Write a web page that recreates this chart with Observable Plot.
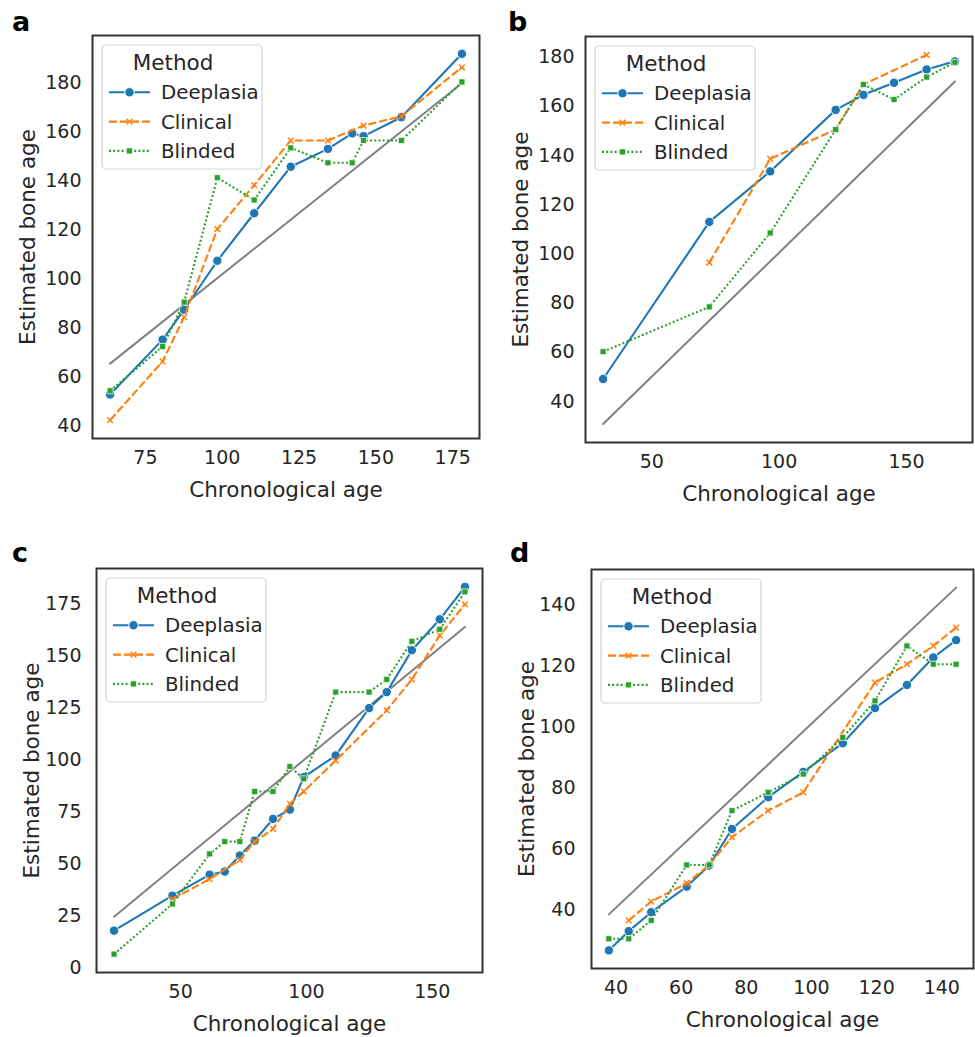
<!DOCTYPE html>
<html><head><meta charset="utf-8">
<script src="https://cdn.jsdelivr.net/npm/d3@7"></script>
<script src="https://cdn.jsdelivr.net/npm/@observablehq/plot@0.6"></script>
<style>
html,body{margin:0;padding:0;background:#fff;overflow:hidden;}
#fig{position:relative;width:975px;height:1037px;font-family:"DejaVu Sans",sans-serif;color:#262626;}
.panel{position:absolute;}
.letter{position:absolute;font-weight:bold;font-size:27px;line-height:1;font-family:"DejaVu Sans",sans-serif;color:#000;}
</style></head><body><div id="fig"></div>
<script>
// ---------- data ----------
const methods = ["Deeplasia", "Clinical", "Blinded"];

// panel a
const ageA = [63.5, 80.6, 87.6, 98.4, 110.4, 122.3, 134.4, 142.3, 146.0, 158.3, 178.0];
const deeplasiaA = [52.9, 75.3, 87.5, 107.5, 126.9, 145.9, 153.2, 159.5, 158.4, 166.1, 192.0];
const clinicalA = [42.4, 66.4, 84.5, 120.4, 138.4, 156.6, 156.6, null, 162.7, 166.5, 186.5];
const blindedA = [54.4, 72.5, 90.6, 141.4, 132.3, 153.6, 147.5, 147.5, 156.6, 156.6, 180.5];
const refXA = [63.5, 178.0], refYA = [65.5, 180.0];
const xTicksA = [75, 100, 125, 150, 175], yTicksA = [40, 60, 80, 100, 120, 140, 160, 180];

// panel b
const ageB = [30.9, 72.6, 96.5, 122.2, 133.1, 145.1, 157.9, 169.0];
const deeplasiaB = [49.2, 113.0, 133.5, 158.5, 164.6, 169.5, 174.9, 178.2];
const clinicalB = [null, 96.5, 138.6, 150.5, 168.8, null, 180.8, null];
const blindedB = [60.3, 78.5, 108.5, 150.5, 168.8, 162.7, 171.8, 177.8];
const refXB = [30.9, 169.0], refYB = [30.9, 170.0];
const xTicksB = [50, 100, 150], yTicksB = [40, 60, 80, 100, 120, 140, 160, 180];

// panel c
const ageC = [23.5, 46.7, 61.5, 67.5, 73.5, 79.4, 86.7, 93.4, 98.9, 111.6, 124.9, 131.9, 141.9, 153.0, 163.0];
const deeplasiaC = [17.7, 34.5, 44.6, 46.1, 53.8, 61.0, 71.4, 75.9, 91.5, 101.9, 124.7, 132.4, 152.5, 167.4, 183.0];
const clinicalC = [null, 32.9, 42.5, null, 51.7, 60.5, 66.6, 78.7, 84.6, 99.5, null, 123.6, 138.5, 159.7, 174.6];
const blindedC = [6.4, 30.5, 54.6, 60.5, 60.5, 84.6, 84.6, 96.6, 90.7, 132.4, 132.4, 138.5, 156.8, 162.6, 180.6];
const refXC = [23.5, 163.0], refYC = [24.4, 163.7];
const xTicksC = [50, 100, 150], yTicksC = [0, 25, 50, 75, 100, 125, 150, 175];

// panel d
const ageD = [37.8, 43.9, 50.8, 61.7, 68.6, 75.6, 86.7, 97.5, 109.6, 119.5, 129.3, 137.4, 144.4];
const deeplasiaD = [26.6, 32.9, 39.1, 47.5, 54.4, 66.4, 76.8, 85.1, 94.5, 106.0, 113.6, 122.6, 128.3];
const clinicalD = [null, 36.4, 42.6, 48.6, 54.6, 63.7, 72.4, 78.4, null, 114.4, 120.4, 126.4, 132.4];
const blindedD = [30.4, 30.4, 36.4, 54.6, 54.6, 72.4, 78.4, 84.4, 96.4, 108.4, 126.4, 120.4, 120.4];
const refXD = [37.8, 144.4], refYD = [38.4, 145.5];
const xTicksD = [40, 60, 80, 100, 120, 140], yTicksD = [40, 60, 80, 100, 120, 140];

const xLabel = "Chronological age";
const yLabel = "Estimated bone age";
const legendTitle = "Method";
const panelLetters = ["a", "b", "c", "d"];

// ---------- styles ----------
const styles = {
  Deeplasia: {color: "#1f77b4", dash: null, symbol: "circle"},
  Clinical: {color: "#ff7f0e", dash: "8,3", symbol: "times"},
  Blinded: {color: "#2ca02c", dash: "2,2.2", symbol: "square"}
};
const R_CIRCLE = 4.7, R_TIMES = 2.7, R_SQUARE = 3.4;

const panels = [
  {letter: panelLetters[0], left: 92, top: 35, fw: 387, fh: 403, age: ageA, series: [deeplasiaA, clinicalA, blindedA], refX: refXA, refY: refYA, xTicks: xTicksA, yTicks: yTicksA, yPad: 11, lx: 12, ly: 8},
  {letter: panelLetters[1], left: 585, top: 36, fw: 387, fh: 406, age: ageB, series: [deeplasiaB, clinicalB, blindedB], refX: refXB, refY: refYB, xTicks: xTicksB, yTicks: yTicksB, yPad: 11, lx: 508, ly: 8},
  {letter: panelLetters[2], left: 96, top: 568, fw: 386, fh: 404, age: ageC, series: [deeplasiaC, clinicalC, blindedC], refX: refXC, refY: refYC, xTicks: xTicksC, yTicks: yTicksC, yPad: 15, lx: 12, ly: 539},
  {letter: panelLetters[3], left: 591, top: 569, fw: 382, fh: 399, age: ageD, series: [deeplasiaD, clinicalD, blindedD], refX: refXD, refY: refYD, xTicks: xTicksD, yTicks: yTicksD, yPad: 16, lx: 510, ly: 539}
];

function padded(vals) {
  const [lo, hi] = d3.extent(vals);
  const p = (hi - lo) * 0.05;
  return [lo - p, hi + p];
}

const fig = document.getElementById("fig");
const ML = 90, MT = 10, MR = 2, MB = 70;

for (const P of panels) {
  const rows = [];
  P.age.forEach((a, i) => {
    methods.forEach((m, k) => {
      const v = P.series[k][i];
      if (v != null) rows.push({age: a, est: v, method: m});
    });
  });
  const ref = P.refX.map((x, i) => ({x, y: P.refY[i]}));
  const xDomain = padded([...P.age, ...P.refX]);
  const yDomain = padded([...rows.map(d => d.est), ...P.refY]);

  const seriesMarks = [];
  for (const m of methods) {
    const s = styles[m];
    const data = rows.filter(d => d.method === m);
    seriesMarks.push(Plot.line(data, {x: "age", y: "est", stroke: s.color, strokeWidth: 2.1, strokeDasharray: s.dash, strokeLinecap: "butt"}));
    if (s.symbol === "circle")
      seriesMarks.push(Plot.dot(data, {x: "age", y: "est", symbol: "circle", r: R_CIRCLE, fill: s.color, stroke: "white", strokeWidth: 1}));
    else if (s.symbol === "times")
      seriesMarks.push(Plot.dot(data, {x: "age", y: "est", symbol: "times", r: R_TIMES, stroke: s.color, strokeWidth: 1.5}));
    else
      seriesMarks.push(Plot.dot(data, {x: "age", y: "est", symbol: "square", r: R_SQUARE, fill: s.color, stroke: "white", strokeWidth: 0.7}));
  }

  const svg = Plot.plot({
    width: ML + P.fw + MR,
    height: MT + P.fh + MB,
    marginLeft: ML, marginTop: MT, marginRight: MR, marginBottom: MB,
    style: {fontFamily: "DejaVu Sans", fontSize: "19px", color: "#262626", background: "transparent", overflow: "visible"},
    x: {domain: xDomain, label: null},
    y: {domain: yDomain, label: null},
    marks: [
      Plot.line(ref, {x: "x", y: "y", stroke: "#808080", strokeWidth: 2}),
      ...seriesMarks,
      Plot.frame({stroke: "#333333", strokeWidth: 2}),
      Plot.axisX({ticks: P.xTicks, tickSize: 0, tickPadding: 12, fontSize: 19, label: null}),
      Plot.axisY({ticks: P.yTicks, tickSize: 0, tickPadding: P.yPad, fontSize: 19, label: null}),
      Plot.text([xLabel], {frameAnchor: "bottom", dy: 52, fontSize: 21.5, lineAnchor: "middle", fill: "#262626"}),
      Plot.text([yLabel], {frameAnchor: "left", dx: -64, rotate: -90, fontSize: 21.5, lineAnchor: "middle", textAnchor: "middle", fill: "#262626"})
    ]
  });

  // legend (inside the frame, upper left)
  const g = d3.select(svg).append("g").attr("transform", `translate(${ML + 10},${MT + 10})`);
  g.append("rect").attr("width", 160).attr("height", 124).attr("rx", 4)
    .attr("fill", "white").attr("fill-opacity", 0.85).attr("stroke", "#d6d6d6").attr("stroke-width", 1.2);
  g.append("text").attr("x", 71).attr("y", 17).attr("dy", "0.35em").attr("text-anchor", "middle")
    .attr("font-size", 21.5).attr("fill", "#262626").text(legendTitle);
  methods.forEach((m, k) => {
    const s = styles[m];
    const y = 47.3 + k * 29.3;
    g.append("line").attr("x1", 7).attr("x2", 48).attr("y1", y).attr("y2", y)
      .attr("stroke", s.color).attr("stroke-width", 2.1).attr("stroke-dasharray", s.dash);
    if (s.symbol === "circle")
      g.append("circle").attr("cx", 27.5).attr("cy", y).attr("r", R_CIRCLE).attr("fill", s.color).attr("stroke", "white").attr("stroke-width", 1);
    else if (s.symbol === "times")
      g.append("path").attr("transform", `translate(27.5,${y})`).attr("d", d3.symbol(d3.symbolTimes, R_TIMES * R_TIMES * Math.PI)())
        .attr("fill", "none").attr("stroke", s.color).attr("stroke-width", 1.5);
    else
      g.append("path").attr("transform", `translate(27.5,${y})`).attr("d", d3.symbol(d3.symbolSquare, R_SQUARE * R_SQUARE * Math.PI)())
        .attr("fill", s.color).attr("stroke", "white").attr("stroke-width", 0.7);
    g.append("text").attr("x", 59).attr("y", y).attr("dy", "0.35em").attr("text-anchor", "start").attr("font-size", 19.8)
      .attr("fill", "#262626").text(m);
  });

  const wrap = document.createElement("div");
  wrap.className = "panel";
  wrap.style.left = (P.left - ML) + "px";
  wrap.style.top = (P.top - MT) + "px";
  wrap.appendChild(svg);
  fig.appendChild(wrap);

  const lab = document.createElement("div");
  lab.className = "letter";
  lab.style.left = P.lx + "px";
  lab.style.top = P.ly + "px";
  lab.textContent = P.letter;
  fig.appendChild(lab);
}
</script></body></html>
